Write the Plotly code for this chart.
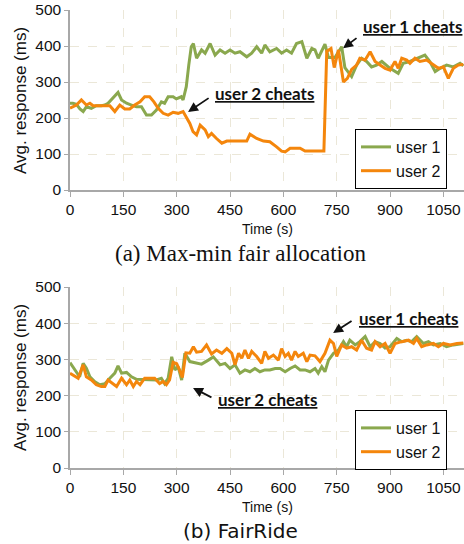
import plotly.graph_objects as go

# ---------------- data ----------------
# (a) Max-min fair allocation
a_u1_t = [0, 8, 18, 28, 37, 46, 60, 74, 88, 98, 107, 121, 135, 145, 159, 173, 187, 201, 215, 229,
          243, 257, 266, 276, 290, 299, 313, 318, 327, 334, 341, 347, 356, 370, 380, 394, 408, 422,
          436, 450, 464, 478, 497, 511, 525, 539, 548, 562, 581, 595, 609, 623, 637, 652, 666, 680,
          689, 698, 717, 727, 745, 764, 773, 792, 806, 820, 834, 848, 862, 877, 900, 923, 937, 956,
          975, 998, 1012, 1027, 1041, 1059, 1078, 1097, 1106]
a_u1_v = [241, 241, 238, 225, 218, 231, 227, 234, 234, 236, 241, 255, 271, 250, 241, 236, 231, 231, 208, 208,
          222, 245, 241, 259, 259, 253, 259, 250, 287, 347, 398, 407, 366, 389, 380, 407, 375, 389,
          380, 389, 380, 384, 370, 380, 398, 380, 403, 384, 393, 380, 389, 380, 407, 412, 366, 393,
          389, 366, 405, 368, 368, 398, 340, 315, 347, 366, 357, 342, 347, 357, 338, 324, 352, 357,
          366, 375, 357, 329, 338, 347, 342, 352, 345]

a_u2_t = [0, 18, 32, 46, 56, 65, 88, 112, 126, 140, 154, 168, 182, 197, 210, 224, 236, 248, 262, 276,
          290, 304, 318, 327, 337, 346, 351, 356, 366, 380, 389, 398, 412, 427, 441, 460, 480, 497,
          506, 525, 544, 562, 581, 595, 605, 619, 633, 647, 661, 680, 700, 714, 722, 734, 743, 755,
          769, 780, 792, 806, 815, 830, 844, 858, 872, 886, 900, 914, 923, 933, 947, 956, 970, 984,
          1003, 1022, 1036, 1050, 1064, 1078, 1092, 1106]
a_u2_v = [227, 236, 250, 236, 241, 234, 234, 234, 218, 236, 225, 225, 236, 245, 259, 259, 245, 227, 213, 208,
          216, 213, 218, 204, 185, 162, 157, 153, 180, 167, 148, 157, 143, 130, 136, 136, 136, 136,
          155, 143, 136, 134, 120, 108, 106, 116, 116, 116, 108, 108, 108, 108, 385, 393, 340, 389,
          300, 310, 335, 347, 366, 361, 384, 357, 347, 338, 333, 357, 338, 366, 361, 352, 366, 357,
          361, 347, 338, 342, 310, 338, 347, 349]

# (b) FairRide
b_u1_t = [0, 18, 27, 37, 46, 56, 70, 84, 98, 112, 126, 135, 145, 159, 173, 187, 201, 215, 229, 243,
          257, 266, 276, 286, 295, 304, 314, 323, 337, 352, 370, 389, 403, 422, 436, 450, 464, 478,
          492, 506, 520, 534, 548, 562, 577, 591, 605, 619, 633, 647, 661, 675, 689, 698, 708, 717,
          727, 741, 755, 769, 778, 787, 802, 815, 830, 844, 858, 872, 886, 900, 919, 933, 947, 961,
          975, 994, 1008, 1022, 1041, 1059, 1078, 1106]
b_u1_v = [291, 266, 252, 289, 276, 252, 238, 230, 233, 248, 262, 282, 262, 264, 252, 245, 245, 245, 245, 243,
          248, 233, 248, 307, 271, 280, 243, 317, 294, 290, 287, 298, 307, 285, 289, 275, 285, 262,
          271, 266, 275, 266, 271, 271, 275, 275, 266, 275, 282, 271, 271, 266, 275, 262, 280, 266,
          298, 317, 326, 349, 335, 353, 340, 349, 363, 335, 349, 344, 331, 335, 358, 349, 353, 349,
          363, 344, 349, 340, 344, 335, 340, 344]

b_u2_t = [0, 23, 37, 46, 60, 74, 88, 98, 107, 121, 131, 145, 159, 168, 178, 187, 197, 210, 224, 238,
          252, 262, 271, 280, 290, 300, 308, 316, 326, 337, 347, 356, 370, 384, 398, 412, 427, 441,
          455, 464, 474, 483, 492, 502, 511, 525, 539, 548, 558, 572, 586, 595, 605, 614, 623, 633,
          642, 656, 666, 675, 689, 703, 717, 731, 741, 750, 764, 778, 792, 806, 820, 834, 848, 858,
          872, 886, 900, 914, 933, 952, 966, 975, 989, 1003, 1022, 1036, 1050, 1069, 1088, 1106]
b_u2_v = [262, 248, 285, 252, 243, 230, 225, 225, 243, 233, 225, 248, 230, 243, 225, 239, 230, 248, 248, 248,
          233, 239, 230, 243, 292, 288, 271, 250, 318, 317, 335, 320, 322, 340, 315, 326, 317, 330,
          317, 285, 317, 303, 326, 303, 322, 308, 289, 322, 303, 312, 298, 330, 308, 317, 298, 322,
          308, 317, 294, 312, 310, 294, 317, 353, 344, 308, 340, 331, 335, 326, 353, 331, 326, 349,
          335, 344, 317, 344, 349, 353, 344, 358, 335, 340, 344, 335, 344, 340, 344, 345]

series_names = ["user 1", "user 2"]
x_ticks = [0, 150, 300, 450, 600, 750, 900, 1050]
y_ticks = [0, 100, 200, 300, 400, 500]

GREEN = "#8aa84e"
ORANGE = "#f4860c"
W, H = 464, 544

fig = go.Figure()
fig.add_trace(go.Scatter(x=a_u1_t, y=a_u1_v, mode="lines", name=series_names[0],
                         line=dict(color=GREEN, width=3), xaxis="x", yaxis="y", legend="legend"))
fig.add_trace(go.Scatter(x=a_u2_t, y=a_u2_v, mode="lines", name=series_names[1],
                         line=dict(color=ORANGE, width=3), xaxis="x", yaxis="y", legend="legend"))
fig.add_trace(go.Scatter(x=b_u1_t, y=b_u1_v, mode="lines", name=series_names[0],
                         line=dict(color=GREEN, width=3), xaxis="x2", yaxis="y2", legend="legend2"))
fig.add_trace(go.Scatter(x=b_u2_t, y=b_u2_v, mode="lines", name=series_names[1],
                         line=dict(color=ORANGE, width=3), xaxis="x2", yaxis="y2", legend="legend2"))

tickfont = dict(family="Liberation Sans, Arial, sans-serif", size=15.5, color="#111")
xcommon = dict(range=[0, 1108], tickvals=x_ticks, showgrid=True, gridcolor="#ebe7d8",
               griddash="dash", gridwidth=1, showline=True, linecolor="#a8a8a8", linewidth=1.5,
               ticks="outside", ticklen=5, tickcolor="#a8a8a8", zeroline=False, tickfont=tickfont,
               domain=[70 / W, 1.0], fixedrange=True, automargin=False)
ycommon = dict(range=[0, 500], tickvals=y_ticks, showgrid=True, gridcolor="#ebe7d8",
               griddash="dash", gridwidth=1, showline=True, linecolor="#a8a8a8", linewidth=1.5,
               ticks="outside", ticklen=4, tickcolor="#a8a8a8", zeroline=False, tickfont=tickfont,
               fixedrange=True, automargin=False)

def py(pix):
    return 1 - pix / H

legend_common = dict(bgcolor="white", bordercolor="black", borderwidth=1,
                     font=dict(family="Liberation Sans, Arial, sans-serif", size=16, color="#111"),
                     xanchor="left", yanchor="top", tracegroupgap=0, itemwidth=30)

fig.update_layout(
    width=W, height=H, margin=dict(l=0, r=0, t=0, b=0, autoexpand=False),
    paper_bgcolor="white", plot_bgcolor="white", showlegend=True,
    xaxis=dict(**xcommon, anchor="y"),
    yaxis=dict(**ycommon, anchor="x", domain=[py(190), py(10)]),
    xaxis2=dict(**xcommon, anchor="y2"),
    yaxis2=dict(**ycommon, anchor="x2", domain=[py(468), py(287)]),
    legend=dict(**legend_common, x=355 / W, y=py(129)),
    legend2=dict(**legend_common, x=355 / W, y=py(410)),
)

anns = []
lab_font = dict(family="Lato, Liberation Sans, sans-serif", size=17, color="#111")
# text labels
for xr, yr, tx, ty, txt in [
    ("x", "y", 962, 453, "<b><u>user 1 cheats</u></b>"),
    ("x", "y", 548, 268, "<b><u>user 2 cheats</u></b>"),
    ("x2", "y2", 951, 414, "<b><u>user 1 cheats</u></b>"),
    ("x2", "y2", 554, 190, "<b><u>user 2 cheats</u></b>"),
]:
    anns.append(dict(xref=xr, yref=yr, x=tx, y=ty, text=txt, showarrow=False, font=lab_font,
                     xanchor="center", yanchor="middle"))
# arrows
for xr, yr, hx, hy, tx, ty in [
    ("x", "y", 768, 394, 810, 425),
    ("x", "y", 332, 217, 394, 258),
    ("x2", "y2", 740, 373, 796, 409),
    ("x2", "y2", 346, 221, 402, 193),
]:
    anns.append(dict(xref=xr, yref=yr, x=hx, y=hy, axref=xr, ayref=yr, ax=tx, ay=ty, text="",
                     showarrow=True, arrowhead=2, arrowsize=1.1, arrowwidth=1.8, arrowcolor="#111"))
# axis titles
ytitle_font = dict(family="Liberation Sans, Arial, sans-serif", size=17, color="#111")
xtitle_font = dict(family="Liberation Sans, Arial, sans-serif", size=14, color="#111")
paper_ann = dict(xref="paper", yref="paper", showarrow=False, xanchor="center", yanchor="middle")
anns.append(dict(**paper_ann, x=20 / W, y=py(101), text="Avg. response (ms)", textangle=-90, font=ytitle_font))
anns.append(dict(**paper_ann, x=20 / W, y=py(378), text="Avg. response (ms)", textangle=-90, font=ytitle_font))
anns.append(dict(**paper_ann, x=267 / W, y=py(229), text="Time (s)", font=xtitle_font))
anns.append(dict(**paper_ann, x=267 / W, y=py(507), text="Time (s)", font=xtitle_font))
# captions
anns.append(dict(**paper_ann, x=240 / W, y=py(253), text="(a) Max-min fair allocation",
                 font=dict(family="Liberation Serif, Times New Roman, serif", size=23, color="#111")))
anns.append(dict(**paper_ann, x=240 / W, y=py(531), text="(b) FairRide",
                 font=dict(family="DejaVu Sans, sans-serif", size=20, color="#111")))

fig.update_layout(annotations=anns)
fig.write_html("out.html", config={"displayModeBar": False},
               post_script="document.body.style.margin='0';document.body.style.overflow='hidden';")
